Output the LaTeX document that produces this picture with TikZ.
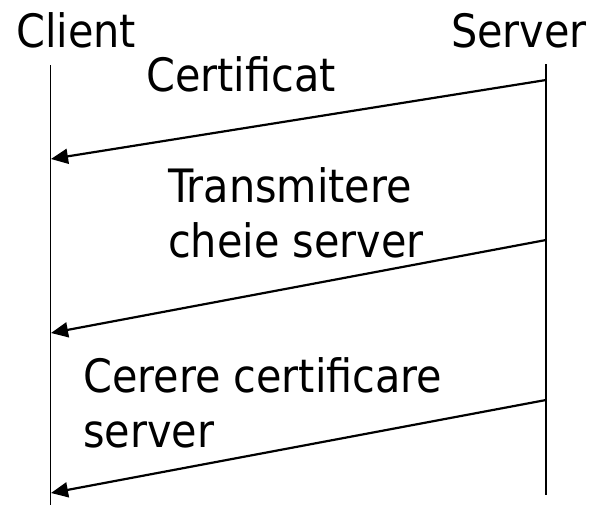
\documentclass[tikz,border=0pt]{standalone}
\usepackage{fontspec}
\setmainfont{DejaVu Sans Condensed}
\usetikzlibrary{arrows.meta}
\tikzset{
  label text/.style={inner sep=0pt, anchor=base west, font=\fontsize{46}{56}\selectfont},
  lifeline/.style={line width=1.6pt},
  message/.style={line width=2.2pt, -{Triangle[length=17pt,width=15pt]}}
}
\begin{document}
\begin{tikzpicture}[x=1pt,y=-1pt]
\useasboundingbox (0,0) rectangle (596,507);
% participants
\node[label text] (client) at (16,47) {Client};
\node[label text] (server) at (451,47) {Server};
% lifelines
\coordinate (ctop) at (50.5,65);
\coordinate (cbot) at (50.5,505);
\coordinate (stop) at (546,64);
\coordinate (sbot) at (546,495);
\draw[lifeline] (ctop) -- (cbot);
\draw[lifeline] (stop) -- (sbot);
% message end points
\coordinate (s1) at (546,80);
\coordinate (c1) at (51,159);
\coordinate (s2) at (546,240);
\coordinate (c2) at (51,333);
\coordinate (s3) at (546,400);
\coordinate (c3) at (51,493);
\draw[message] (s1) -- (c1);
\draw[message] (s2) -- (c2);
\draw[message] (s3) -- (c3);
% message labels
\node[label text] (m1) at (146,91) {Certificat};
\node[label text] (m2a) at (168,202) {Transmitere};
\node[label text] (m2b) at (168,257) {cheie server};
\node[label text] (m3a) at (83,392) {Cerere certificare};
\node[label text] (m3b) at (83,447) {server};
\end{tikzpicture}
\end{document}
